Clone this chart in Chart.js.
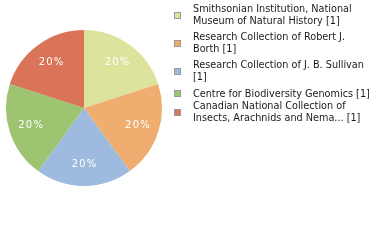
<!DOCTYPE html>
<html><head><meta charset="utf-8">
<script src="https://cdn.jsdelivr.net/npm/chart.js@4/dist/chart.umd.min.js"></script>
<style>
html,body{margin:0;padding:0;background:#fff;width:380px;height:240px;overflow:hidden;}
#wrap{position:relative;width:380px;height:240px;}
#c{position:absolute;left:0;top:0;}
#legend{position:absolute;left:174px;top:3px;width:206px;font-family:"DejaVu Sans",Verdana,sans-serif;font-size:9.7px;line-height:11.6px;color:#1a1a1a;}
.item{position:relative;padding-left:19px;margin-bottom:5px;}
.item.single{margin-bottom:1px;}
.sw{position:absolute;left:0;top:50%;margin-top:-3px;width:5px;height:5px;border:1px solid #999;}
</style></head>
<body><div id="wrap"><canvas id="c" width="380" height="240"></canvas><div id="legend"></div></div>
<script>
const categories = [
  "Smithsonian Institution, National Museum of Natural History [1]",
  "Research Collection of Robert J. Borth [1]",
  "Research Collection of J. B. Sullivan [1]",
  "Centre for Biodiversity Genomics [1]",
  "Canadian National Collection of Insects, Arachnids and Nema... [1]"
];
const legendLines = [
  ["Smithsonian Institution, National", "Museum of Natural History [1]"],
  ["Research Collection of Robert J.", "Borth [1]"],
  ["Research Collection of J. B. Sullivan", "[1]"],
  ["Centre for Biodiversity Genomics [1]"],
  ["Canadian National Collection of", "Insects, Arachnids and Nema... [1]"]
];
const counts = [1, 1, 1, 1, 1];
const colors = ["#dde39c", "#efad70", "#9ebbdf", "#9cc471", "#da7459"];

const labelPlugin = {
  id: 'pctLabels',
  afterDatasetsDraw(chart) {
    const ctx = chart.ctx;
    const meta = chart.getDatasetMeta(0);
    const total = counts.reduce((a, b) => a + b, 0);
    ctx.save();
    ctx.fillStyle = '#fff';
    ctx.font = '10px "DejaVu Sans", sans-serif';
    ctx.textAlign = 'left';
    ctx.textBaseline = 'middle';
    meta.data.forEach((arc, i) => {
      const p = arc.getProps(['x','y','startAngle','endAngle','outerRadius'], true);
      const mid = (p.startAngle + p.endAngle) / 2;
      const r = p.outerRadius * 0.72;
      const txt = Math.round(counts[i] / total * 100) + '%';
      const sp = 1.2;
      let w = 0; const ws = [];
      for (const ch of txt) { const cw = ctx.measureText(ch).width; ws.push(cw); w += cw; }
      w += sp * (txt.length - 1);
      let x = p.x + Math.cos(mid) * r - w / 2;
      const y = p.y + Math.sin(mid) * r;
      [...txt].forEach((ch, k) => { ctx.fillText(ch, x, y); x += ws[k] + sp; });
    });
    ctx.restore();
  }
};

new Chart(document.getElementById('c'), {
  type: 'pie',
  data: { labels: categories, datasets: [{ data: counts, backgroundColor: colors, borderWidth: 0 }] },
  options: {
    responsive: false, animation: false,
    layout: { padding: { left: 6, right: 218, top: 30, bottom: 54 } },
    plugins: { legend: { display: false }, tooltip: { enabled: false } }
  },
  plugins: [labelPlugin]
});

const lg = document.getElementById('legend');
legendLines.forEach((lines, i) => {
  const d = document.createElement('div');
  d.className = 'item' + (lines.length === 1 ? ' single' : '');
  const s = document.createElement('div');
  s.className = 'sw'; s.style.background = colors[i];
  d.appendChild(s);
  lines.forEach(t => { const l = document.createElement('div'); l.textContent = t; l.style.whiteSpace = 'nowrap'; d.appendChild(l); });
  lg.appendChild(d);
});
</script></body></html>
